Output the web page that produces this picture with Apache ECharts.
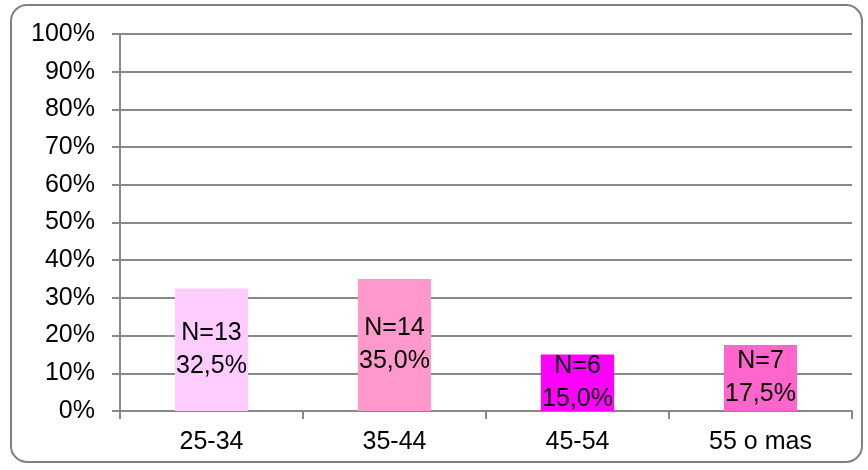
<!DOCTYPE html>
<html>
<head>
<meta charset="utf-8">
<script src="https://cdn.jsdelivr.net/npm/echarts@6/dist/echarts.min.js"></script>
<style>
html, body { margin: 0; padding: 0; background: #fff; }
#chart { width: 868px; height: 470px; }
</style>
</head>
<body>
<div id="chart"></div>
<script>
// Age groups, counts and shares
const categories = ['25-34', '35-44', '45-54', '55 o mas'];
const counts = [13, 14, 6, 7];
const shares = [32.5, 35.0, 15.0, 17.5];
const barColors = ['#FFCCFF', '#FF99CC', '#FF00FF', '#FF66CC'];
const yTicks = [0, 10, 20, 30, 40, 50, 60, 70, 80, 90, 100];

const fontFamily = 'Liberation Sans, Arial, sans-serif';

const chart = echarts.init(document.getElementById('chart'));
chart.setOption({
  animation: false,
  graphic: [{
    type: 'rect',
    shape: { x: 11, y: 5, width: 851, height: 457, r: 16 },
    style: { fill: 'none', stroke: '#808080', lineWidth: 2 },
    silent: true,
    z: -1
  }],
  grid: { left: 120, right: 16, top: 34, bottom: 59 },
  xAxis: {
    type: 'category',
    data: categories,
    axisLine: { lineStyle: { color: '#888888', width: 2 } },
    axisTick: { show: true, length: 8, lineStyle: { color: '#888888', width: 2 } },
    axisLabel: { color: '#000', fontSize: 25, fontFamily: fontFamily, margin: 19 }
  },
  yAxis: {
    type: 'value',
    min: yTicks[0],
    max: yTicks[yTicks.length - 1],
    interval: 10,
    axisLine: { show: true, lineStyle: { color: '#888888', width: 2 } },
    axisTick: { show: true, length: 8, lineStyle: { color: '#888888', width: 2 } },
    splitLine: { lineStyle: { color: '#888888', width: 2 } },
    axisLabel: { color: '#000', fontSize: 25, fontFamily: fontFamily, margin: 25, formatter: v => v + '%' }
  },
  series: [{
    type: 'bar',
    barWidth: '40%',
    data: shares.map((v, i) => ({ value: v, itemStyle: { color: barColors[i] } })),
    label: {
      show: true,
      position: 'inside',
      color: '#000',
      fontSize: 25,
      lineHeight: 33,
      fontFamily: fontFamily,
      formatter: p => 'N=' + counts[p.dataIndex] + '\n' + p.value.toFixed(1).replace('.', ',') + '%'
    }
  }]
});
</script>
</body>
</html>
